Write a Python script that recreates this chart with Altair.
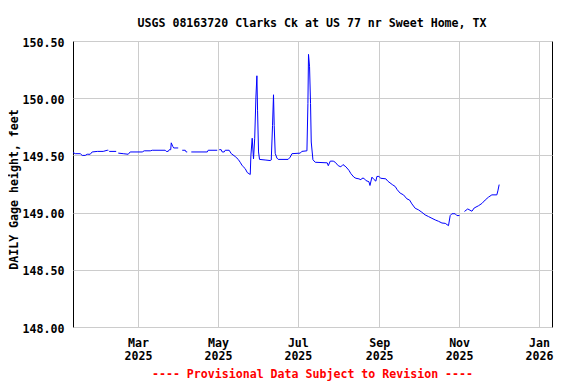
import altair as alt
import pandas as pd

title_text = "USGS 08163720 Clarks Ck at US 77 nr Sweet Home, TX"
y_title = "DAILY Gage height, feet"
footer_text = "---- Provisional Data Subject to Revision ----"

# None marks a gap in the record
dates = [
    "2025-01-10T11:00", "2025-01-12T05:00", "2025-01-16T00:00", "2025-01-17T12:00",
    "2025-01-19T19:00", "2025-01-21T07:00", "2025-01-23T14:00", "2025-01-25T02:00",
    "2025-01-29T00:00", "2025-02-02T12:00", "2025-02-05T14:00", "2025-02-06T10:00",
    None,
    "2025-02-07T02:00", "2025-02-12T10:00",
    None,
    "2025-02-14T00:00", "2025-02-17T19:00", "2025-02-21T14:00", "2025-02-23T02:00",
    "2025-03-04T07:00", "2025-03-05T19:00", "2025-03-10T10:00", "2025-03-11T22:00",
    "2025-03-21T19:00", "2025-03-22T14:00", "2025-03-24T02:00", "2025-03-24T22:00",
    "2025-03-26T00:00", "2025-03-26T10:00", "2025-03-27T12:00", "2025-03-28T07:00",
    "2025-03-31T17:00",
    None,
    "2025-04-03T19:00", "2025-04-06T02:00", "2025-04-06T19:00", "2025-04-07T14:00",
    None,
    "2025-04-10T17:00", "2025-04-22T22:00", "2025-04-23T14:00", "2025-04-30T12:00",
    None,
    "2025-05-02T00:00", "2025-05-03T12:00", "2025-05-04T07:00", "2025-05-05T19:00",
    "2025-05-06T14:00", "2025-05-09T14:00", "2025-05-11T05:00", "2025-05-14T05:00",
    "2025-05-16T12:00", "2025-05-18T00:00", "2025-05-19T14:00", "2025-05-21T19:00",
    "2025-05-23T10:00", "2025-05-25T16:00", "2025-05-26T04:00", "2025-05-27T04:00",
    "2025-05-28T04:00", "2025-05-29T02:00", "2025-05-30T00:00", "2025-05-30T18:00",
    "2025-05-31T06:00", "2025-06-01T00:00", "2025-06-01T18:00", "2025-06-06T00:00",
    "2025-06-09T22:00", "2025-06-10T17:00", "2025-06-11T16:00", "2025-06-12T10:00",
    "2025-06-12T23:00", "2025-06-13T17:00", "2025-06-15T00:00", "2025-06-16T00:00",
    "2025-06-23T14:00", "2025-06-25T04:00", "2025-06-26T12:00", "2025-07-02T20:00",
    "2025-07-04T00:00", "2025-07-07T22:00", "2025-07-08T16:00", "2025-07-09T03:00",
    "2025-07-09T22:00", "2025-07-10T16:00", "2025-07-11T05:00", "2025-07-12T12:00",
    "2025-07-14T06:00", "2025-07-23T10:00", "2025-07-24T05:00", "2025-07-25T17:00",
    "2025-07-28T00:00", "2025-07-29T12:00", "2025-07-31T19:00", "2025-08-02T19:00",
    "2025-08-04T10:00", "2025-08-06T16:00", "2025-08-08T22:00", "2025-08-10T12:00",
    "2025-08-12T18:00", "2025-08-14T07:00", "2025-08-16T14:00", "2025-08-18T03:00",
    "2025-08-18T22:00", "2025-08-20T10:00", "2025-08-21T22:00", "2025-08-24T05:00",
    "2025-08-25T00:00", "2025-08-26T12:00", "2025-08-28T00:00", "2025-08-29T12:00",
    "2025-08-30T07:00", "2025-08-31T19:00", "2025-09-02T07:00", "2025-09-06T03:00",
    "2025-09-07T14:00", "2025-09-11T00:00", "2025-09-13T07:00", "2025-09-14T19:00",
    "2025-09-17T02:00", "2025-09-19T14:00", "2025-09-22T05:00", "2025-09-24T05:00",
    "2025-09-26T00:00", "2025-09-28T12:00", "2025-10-01T00:00", "2025-10-03T14:00",
    "2025-10-06T02:00", "2025-10-08T17:00", "2025-10-11T07:00", "2025-10-13T19:00",
    "2025-10-16T07:00", "2025-10-18T22:00", "2025-10-21T10:00", "2025-10-23T22:00",
    "2025-10-25T05:00", "2025-10-26T12:00", "2025-10-29T00:00", "2025-10-30T07:00",
    "2025-11-01T07:00",
    None,
    "2025-11-05T02:00", "2025-11-07T14:00", "2025-11-10T19:00", "2025-11-12T12:00",
    "2025-11-15T19:00", "2025-11-18T10:00", "2025-11-20T22:00", "2025-11-23T10:00",
    "2025-11-26T00:00", "2025-11-29T19:00", "2025-11-30T14:00", "2025-12-01T14:00",
]

values = [
    149.525, 149.515, 149.515, 149.500,
    149.500, 149.510, 149.510, 149.530,
    149.535, 149.535, 149.545, 149.545,
    None,
    149.535, 149.535,
    None,
    149.520, 149.515, 149.510, 149.530,
    149.530, 149.540, 149.540, 149.545,
    149.545, 149.535, 149.535, 149.550,
    149.550, 149.610, 149.580, 149.565,
    149.565,
    None,
    149.545, 149.545, 149.530, 149.530,
    None,
    149.530, 149.530, 149.545, 149.545,
    None,
    149.550, 149.550, 149.530, 149.530,
    149.545, 149.545, 149.515, 149.490,
    149.465, 149.440, 149.410, 149.385,
    149.350, 149.333, 149.500, 149.650,
    149.470, 149.650, 150.010, 150.196,
    149.895, 149.530, 149.465, 149.460,
    149.455, 149.460, 149.760, 150.030,
    149.760, 149.518, 149.477, 149.465,
    149.465, 149.485, 149.515, 149.520,
    149.535, 149.540, 149.953, 150.383,
    150.275, 149.953, 149.617, 149.462,
    149.440, 149.435, 149.410, 149.450,
    149.450, 149.440, 149.410, 149.400,
    149.420, 149.400, 149.370, 149.340,
    149.310, 149.300, 149.295, 149.287,
    149.300, 149.300, 149.280, 149.270,
    149.237, 149.310, 149.290, 149.275,
    149.316, 149.316, 149.300, 149.295,
    149.275, 149.245, 149.228, 149.200,
    149.170, 149.155, 149.120, 149.110,
    149.076, 149.038, 149.024, 149.003,
    148.980, 148.965, 148.950, 148.936,
    148.924, 148.909, 148.906, 148.886,
    148.974, 148.990, 148.990, 148.974,
    148.974,
    None,
    149.010, 149.032, 149.012, 149.040,
    149.060, 149.080, 149.110, 149.135,
    149.155, 149.155, 149.190, 149.245,
]

y_ticks = [148.0, 148.5, 149.0, 149.5, 150.0, 150.5]

# build table: split the record into segments at gaps
rows = []
seg = 0
for d, v in zip(dates, values):
    if d is None:
        seg += 1
        continue
    rows.append({"date": d, "value": v, "seg": seg})
df = pd.DataFrame(rows)

FONT = "DejaVu Sans Mono"
FS = 11.6
W, H = 479, 286

x_ticks = [
    alt.DateTime(year=2025, month=3, date=1),
    alt.DateTime(year=2025, month=5, date=1),
    alt.DateTime(year=2025, month=7, date=1),
    alt.DateTime(year=2025, month=9, date=1),
    alt.DateTime(year=2025, month=11, date=1),
    alt.DateTime(year=2026, month=1, date=1),
]

line = alt.Chart(df).mark_line(color="#0000ff", strokeWidth=1, clip=True).encode(
    x=alt.X(
        "date:T",
        scale=alt.Scale(
            domain=[
                alt.DateTime(year=2025, month=1, date=10, hours=11),
                alt.DateTime(year=2026, month=1, date=10, hours=21),
            ]
        ),
        axis=alt.Axis(
            title=None,
            values=x_ticks,
            labelExpr="[timeFormat(datum.value, '%b'), timeFormat(datum.value, '%Y')]",
            labelAlign="center",
            labelBaseline="top",
            labelPadding=10,
            labelLineHeight=13.5,
            labelFlush=False,
            labelOverlap=False,
            ticks=False,
            tickSize=0,
            domain=False,
            grid=True,
        ),
    ),
    y=alt.Y(
        "value:Q",
        scale=alt.Scale(domain=[148.0, 150.5], nice=False, zero=False),
        axis=alt.Axis(
            title=y_title,
            values=y_ticks,
            format=".2f",
            labelPadding=9,
            labelBaseline="middle",
            labelOffset=2,
            ticks=False,
            tickSize=0,
            domain=False,
            grid=True,
            titleX=-55.5,
            titleY=148,
            titleAngle=270,
            titleAlign="center",
            titleBaseline="alphabetic",
        ),
    ),
    detail="seg:N",
)

footer = alt.Chart(pd.DataFrame({"t": [footer_text]})).mark_text(
    color="#ff0000",
    font=FONT,
    fontSize=FS,
    fontWeight="bold",
    align="center",
    baseline="alphabetic",
).encode(
    text="t:N",
    x=alt.value(W / 2),
    y=alt.value(337.3),
)

header = alt.Chart(pd.DataFrame({"t": [title_text]})).mark_text(
    color="#000000",
    font=FONT,
    fontSize=FS,
    fontWeight="bold",
    align="center",
    baseline="alphabetic",
).encode(
    text="t:N",
    x=alt.value(W / 2 - 0.5),
    y=alt.value(-14.3),
)

chart = (
    alt.layer(line, footer, header)
    .properties(
        width=W,
        height=H,
        autosize="none",
        padding={"left": 65, "top": 33, "right": 16, "bottom": 54},
    )
    .configure_view(stroke="#000000", strokeWidth=1)
    .configure_axis(
        labelFont=FONT,
        labelFontSize=FS,
        labelFontWeight="bold",
        labelColor="#000000",
        titleFont=FONT,
        titleFontSize=FS,
        titleFontWeight="bold",
        titleColor="#000000",
        gridColor="#cccccc",
        gridWidth=1,
        gridOpacity=1,
    )
)

chart.save("out.html", embed_options={"renderer": "svg", "actions": False})
